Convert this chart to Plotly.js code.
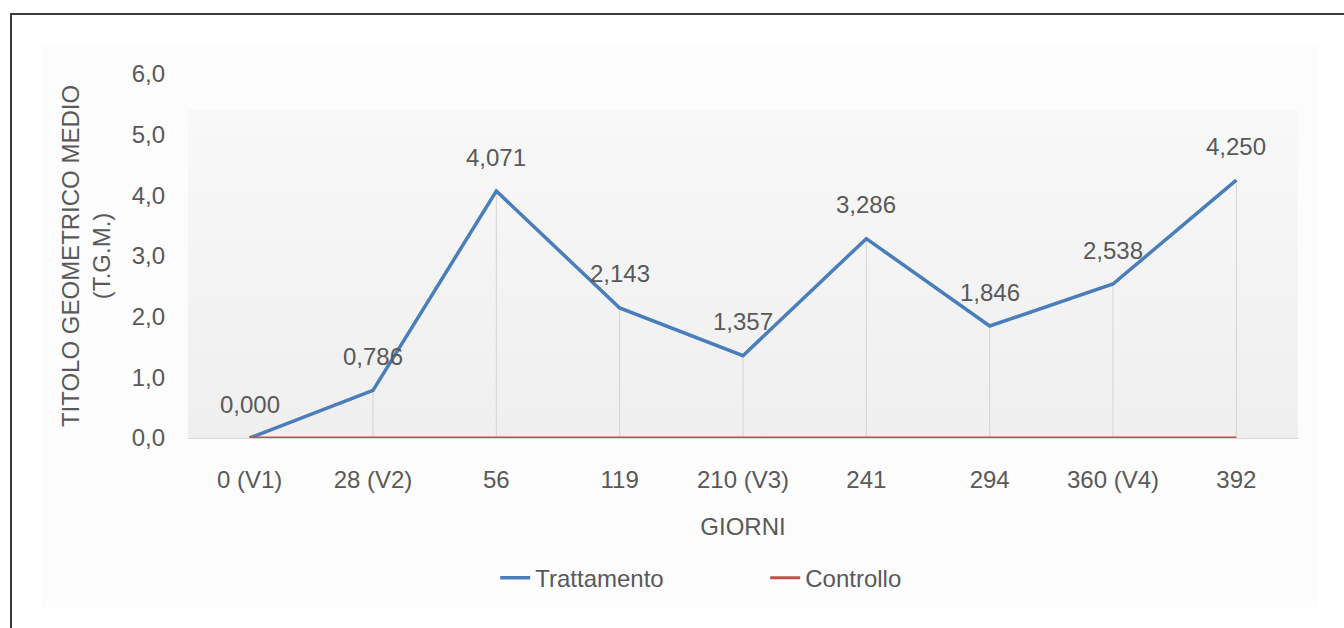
<!DOCTYPE html>
<html>
<head>
<meta charset="utf-8">
<script src="https://cdn.plot.ly/plotly-3.0.1.min.js"></script>
<style>
html,body{margin:0;padding:0;background:#fff;overflow:hidden;}
#wrap{position:relative;width:1344px;height:628px;}
#panel{position:absolute;left:41px;top:45px;width:1276px;height:562px;background:#fcfcfc;}
#chart{position:absolute;left:0;top:0;width:1344px;height:628px;}
#frame{position:absolute;left:10px;top:13px;width:1400px;height:700px;border-left:2px solid #3a3a3a;border-top:2px solid #3a3a3a;pointer-events:none;}
</style>
</head>
<body>
<div id="wrap">
  <div id="panel"></div>
  <div id="chart"></div>
  <div id="frame"></div>
</div>
<script>
const categories = ['0 (V1)', '28 (V2)', '56', '119', '210 (V3)', '241', '294', '360 (V4)', '392'];
const trattamento = [0.000, 0.786, 4.071, 2.143, 1.357, 3.286, 1.846, 2.538, 4.250];
const controllo = [0, 0, 0, 0, 0, 0, 0, 0, 0];
const yTicks = [0, 1, 2, 3, 4, 5, 6];

const fontFam = 'Liberation Sans, Arial, sans-serif';
const txtColor = '#595959';
const fs = 24;

const gradSvg = '<svg xmlns="http://www.w3.org/2000/svg" width="100" height="100" preserveAspectRatio="none">' +
  '<defs><linearGradient id="g" x1="0" y1="0" x2="0" y2="1">' +
  '<stop offset="0" stop-color="#f8f8f8"/><stop offset="1" stop-color="#efefef"/></linearGradient></defs>' +
  '<rect width="100" height="100" fill="url(#g)"/></svg>';

const traces = [
  {
    x: categories, y: trattamento, name: 'Trattamento', type: 'scatter', mode: 'lines',
    line: {color: '#4a7ebb', width: 3.5},
    error_y: {type: 'data', symmetric: false, array: trattamento.map(() => 0), arrayminus: trattamento,
              color: '#d4d4d4', thickness: 1, width: 0},
    hoverinfo: 'skip'
  },
  {
    x: categories, y: controllo, name: 'Controllo', type: 'scatter', mode: 'lines',
    line: {color: '#c0504d', width: 3},
    hoverinfo: 'skip'
  }
];

const annotations = categories.map((c, i) => ({
  x: i, y: trattamento[i], xref: 'x', yref: 'y',
  text: trattamento[i].toFixed(3).replace('.', ','),
  showarrow: false, yshift: 34,
  font: {family: fontFam, size: fs, color: txtColor}
}));

const layout = {
  width: 1344, height: 628,
  margin: {l: 188, r: 46, t: 74, b: 190},
  paper_bgcolor: 'rgba(0,0,0,0)',
  plot_bgcolor: 'rgba(0,0,0,0)',
  separators: ',.',
  font: {family: fontFam, size: fs, color: txtColor},
  showlegend: true,
  legend: {orientation: 'h', x: 0.52, xanchor: 'center', y: -0.385, yanchor: 'middle',
           font: {family: fontFam, size: fs, color: txtColor},
           entrywidth: 225, entrywidthmode: 'pixels', bgcolor: 'rgba(0,0,0,0)'},
  xaxis: {
    type: 'category', range: [-0.5, 8.5], showgrid: false, zeroline: false,
    showline: true, linecolor: '#d9d9d9', linewidth: 1, ticks: '', ticklabelstandoff: 20,
    tickfont: {family: fontFam, size: fs, color: txtColor},
    title: {text: 'GIORNI', standoff: 26, font: {family: fontFam, size: fs, color: txtColor}},
    fixedrange: true
  },
  yaxis: {
    range: [0, 6], tickvals: yTicks, tickformat: '.1f', showgrid: false, zeroline: false,
    showline: false, ticks: '', ticklabelstandoff: 22,
    tickfont: {family: fontFam, size: fs, color: txtColor},
    title: {text: 'TITOLO GEOMETRICO MEDIO<br>(T.G.M.)', standoff: 14, font: {family: fontFam, size: fs, color: txtColor}},
    fixedrange: true
  },
  images: [{
    source: 'data:image/svg+xml;charset=utf-8,' + encodeURIComponent(gradSvg),
    xref: 'paper', yref: 'paper', x: 0, y: 0.901, sizex: 1, sizey: 0.901,
    xanchor: 'left', yanchor: 'top', sizing: 'stretch', layer: 'below'
  }],
  annotations: annotations
};

Plotly.newPlot('chart', traces, layout, {displayModeBar: false, staticPlot: true});
</script>
</body>
</html>
